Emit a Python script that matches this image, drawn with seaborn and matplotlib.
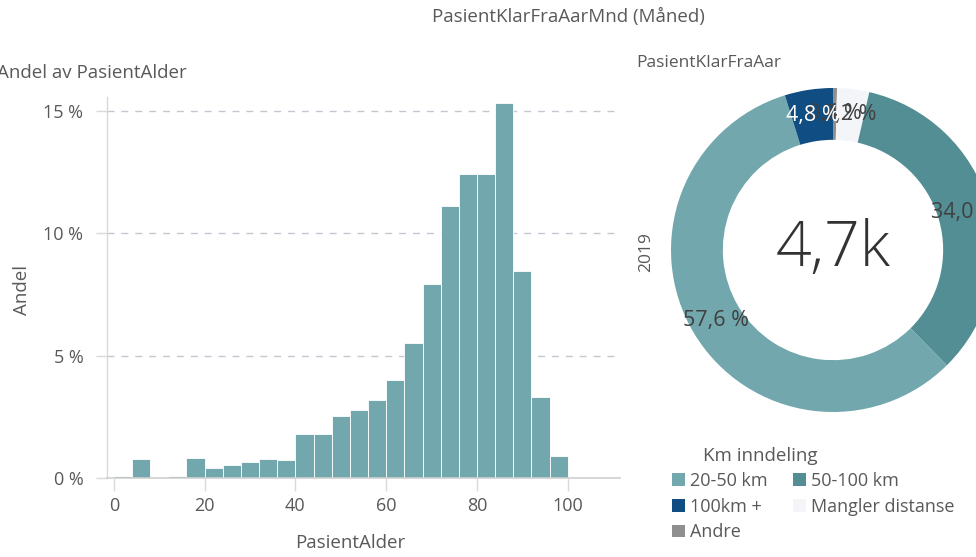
import numpy as np
import pandas as pd
import matplotlib
matplotlib.use("Agg")
import matplotlib.pyplot as plt
import seaborn as sns
from matplotlib.patches import Patch

# ---------------- data ----------------
bin_edges = list(range(0, 104, 4))             # 0,4,...,100
age_bin_centers = [e + 2 for e in bin_edges[:-1]]
age_share_pct = [0.09, 0.78, 0.0, 0.09, 0.83, 0.39, 0.53, 0.65, 0.78, 0.72,
                 1.78, 1.78, 2.53, 2.79, 3.17, 3.99, 5.50, 7.91, 11.12, 12.44,
                 12.44, 15.34, 8.47, 3.29, 0.90]
x_ticks = [0, 20, 40, 60, 80, 100]
y_ticks = [0, 5, 10, 15]
y_tick_labels = ["0 %", "5 %", "10 %", "15 %"]

km_categories = ["20-50 km", "50-100 km", "100km +", "Mangler distanse", "Andre"]
km_share = [57.6, 34.0, 4.8, 3.2, 0.4]
km_colors = ["#72a8ad", "#538e94", "#104d82", "#f3f5f8", "#8f8f8f"]
pie_order = ["Andre", "Mangler distanse", "50-100 km", "20-50 km", "100km +"]
total_label = "4,7k"
year_label = "2019"

# ---------------- style ----------------
sns.set_theme(style="white")
plt.rcParams["font.family"] = ["Open Sans", "DejaVu Sans"]
TXT = "#595959"

W, H = 976, 557
fig = plt.figure(figsize=(W / 100, H / 100), dpi=100)

def fx(px):
    return px / W

def fy(py):
    return 1 - py / H

# ---------------- histogram ----------------
ax = fig.add_axes([fx(107), fy(478), fx(620) - fx(107), fy(97) - fy(478)])
df = pd.DataFrame({"age": age_bin_centers, "share": age_share_pct})
sns.histplot(data=df, x="age", weights="share", bins=bin_edges, ax=ax,
             color="#72a8ad", alpha=1.0, edgecolor="white", linewidth=0.6)
ax.set_xlim(-1.5, 111.5)
ax.set_ylim(0, 15.57)
ax.set_yticks(y_ticks)
ax.set_yticklabels(y_tick_labels)
ax.set_xticks(x_ticks)
for v in y_ticks[1:]:
    ax.axhline(v, color="#c3c7d1", linestyle=(0, (5, 5)), linewidth=1.0, zorder=0)
ax.set_axisbelow(True)
for s in ["top", "right"]:
    ax.spines[s].set_visible(False)
ax.spines["left"].set_color("#d9d9d9")
ax.spines["bottom"].set_color("#d0d0d0")
ax.spines["left"].set_linewidth(1.0)
ax.spines["bottom"].set_linewidth(1.2)
ax.tick_params(axis="y", left=True, length=8, width=1, color="#d9d9d9",
               labelsize=13, labelcolor=TXT, pad=9)
ax.tick_params(axis="x", bottom=True, length=9, width=1, color="#d9d9d9",
               labelsize=13, labelcolor=TXT, pad=5)
ax.set_xlabel("PasientAlder", fontsize=13.5, color=TXT)
ax.set_ylabel("Andel", fontsize=13.5, color=TXT)
ax.xaxis.set_label_coords((fx(350) - fx(107)) / (fx(620) - fx(107)),
                          (fy(543) - fy(478)) / (fy(97) - fy(478)))
ax.xaxis.label.set_va("center")
ax.yaxis.set_label_coords((fx(22) - fx(107)) / (fx(620) - fx(107)),
                          (fy(290) - fy(478)) / (fy(97) - fy(478)))
ax.yaxis.label.set_va("center")

fig.text(fx(-3), fy(73), "Andel av PasientAlder", fontsize=13.5, color=TXT,
         ha="left", va="center")
fig.text(fx(568), fy(17), "PasientKlarFraAarMnd (Måned)", fontsize=13.5, color=TXT,
         ha="center", va="center")

# ---------------- donut ----------------
cx, cy, R = 833, 250, 162
pax = fig.add_axes([fx(cx - R), fy(cy + R), fx(2 * R), fy(0) - fy(2 * R)])
vals = [km_share[km_categories.index(c)] for c in pie_order]
cols = [km_colors[km_categories.index(c)] for c in pie_order]
wedges, _ = pax.pie(vals, colors=cols, startangle=90, counterclock=False,
                    radius=1.0, wedgeprops=dict(width=0.32, linewidth=0))
pax.set_xlim(-1, 1)
pax.set_ylim(-1, 1)
pax.set_aspect("equal")
pax.axis("off")

cum = 0.0
rmid = 0.84
for cat, v in zip(pie_order, vals):
    mid = (cum + v / 2) / 100 * 2 * np.pi
    cum += v
    x, y = rmid * np.sin(mid), rmid * np.cos(mid)
    lab = f"{v:.1f} %".replace(".", ",")
    col = "white" if cat == "100km +" else "#404040"
    pax.text(x, y, lab, ha="center", va="center", fontsize=15.5, color=col,
             clip_on=False)

pax.text(0, 0.0, total_label, ha="center", va="center", fontsize=45,
         color="#333333", fontweight="light")

fig.text(fx(636), fy(63), "PasientKlarFraAar", fontsize=12.5, color=TXT,
         ha="left", va="center")
fig.text(fx(646), fy(252), year_label, fontsize=12.5, color=TXT,
         rotation=90, ha="center", va="center")

# ---------------- legend ----------------
fig.text(fx(760), fy(456), "Km inndeling", fontsize=13.5, color=TXT,
         ha="center", va="center")
leg_order = ["20-50 km", "100km +", "Andre", "50-100 km", "Mangler distanse"]
handles = [Patch(facecolor=km_colors[km_categories.index(c)], edgecolor="none",
                 label=c) for c in leg_order]
leg = fig.legend(handles=handles, ncol=2, loc="upper left",
                 bbox_to_anchor=(fx(672), fy(472)), frameon=False,
                 fontsize=13, handlelength=0.7, handleheight=0.7,
                 handletextpad=0.3, columnspacing=1.4, labelspacing=0.42,
                 borderpad=0.0, borderaxespad=0.0)
for t in leg.get_texts():
    t.set_color(TXT)

fig.savefig("out.png", dpi=100)
